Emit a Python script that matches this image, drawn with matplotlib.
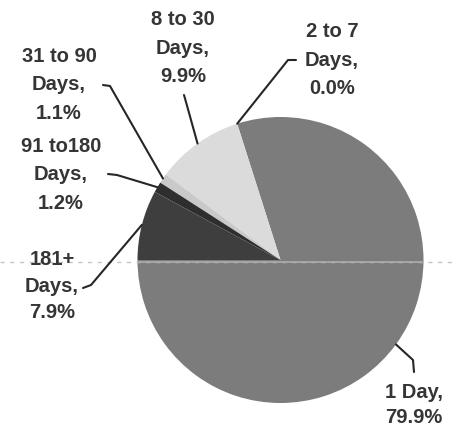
import numpy as np
import matplotlib
matplotlib.use('Agg')
import matplotlib.pyplot as plt
from matplotlib.patches import Circle

plt.rcParams['font.family'] = ['Liberation Sans', 'DejaVu Sans']

# data, in drawing order (counter-clockwise from 9 o'clock)
categories = ['1 Day', '2 to 7\nDays', '8 to 30\nDays', '31 to 90\nDays', '91 to180\nDays', '181+\nDays']
shares = [79.9, 0.0, 9.9, 1.1, 1.2, 7.9]
colors = ['#7c7c7c', '#9a9a9a', '#dbdbdb', '#c9c9c9', '#2e2e2e', '#3e3e3e']

# label layout in pixels (image coords, y down): text centre, elbow, line end
label_pos = [(414, 405), (332, 60), (183, 48), (59, 85), (61, 175), (52, 286)]
spacing = [1.45, 1.62, 1.62, 1.62, 1.62, 1.52]
elbows = [(413, 360), (288, 60), (186, 102), (110, 86), (117, 175), (91, 285)]
ends = [(414, 372), (296, 60), (184, 95), (103, 85), (108, 174), (83, 288)]

W, H = 453, 429
fig = plt.figure(figsize=(W / 100, H / 100), dpi=100)
ax = fig.add_axes([0, 0, 1, 1])

cx, cy, r = 280.5, H - 260, 143
wedges, _ = ax.pie(shares, colors=colors, startangle=180, counterclock=True,
                   center=(cx, cy), radius=r, frame=True,
                   wedgeprops={'linewidth': 0})
ax.set_xlim(0, W)
ax.set_ylim(0, H)
ax.set_aspect('equal')
ax.axis('off')

# faint scan line across the page
ax.plot([0, W], [H - 262, H - 262], color='#c4c4c4', lw=1, ls=(0, (3, 4)), zorder=3)
ln, = ax.plot([cx - r, cx + r], [H - 262, H - 262], color='#a9a9a9', lw=1.3, zorder=3)
ln.set_clip_path(Circle((cx, cy), r, transform=ax.transData))

for w, cat, val, (tx, ty), ls, (ex, ey), (lx, ly) in zip(wedges, categories, shares,
                                                         label_pos, spacing, elbows, ends):
    mid = np.radians((w.theta1 + w.theta2) / 2)
    ax0, ay0 = cx + r * np.cos(mid), cy + r * np.sin(mid)
    ax.plot([ax0, ex, lx], [ay0, H - ey, H - ly], color='#262626', lw=1.5,
            solid_capstyle='round', zorder=4)
    ax.text(tx, H - ty, f'{cat},\n{val:.1f}%', ha='center', va='center',
            fontsize=14.5, fontweight='bold', color='#353535', linespacing=ls)

fig.savefig('out.png', dpi=100, facecolor='white')
